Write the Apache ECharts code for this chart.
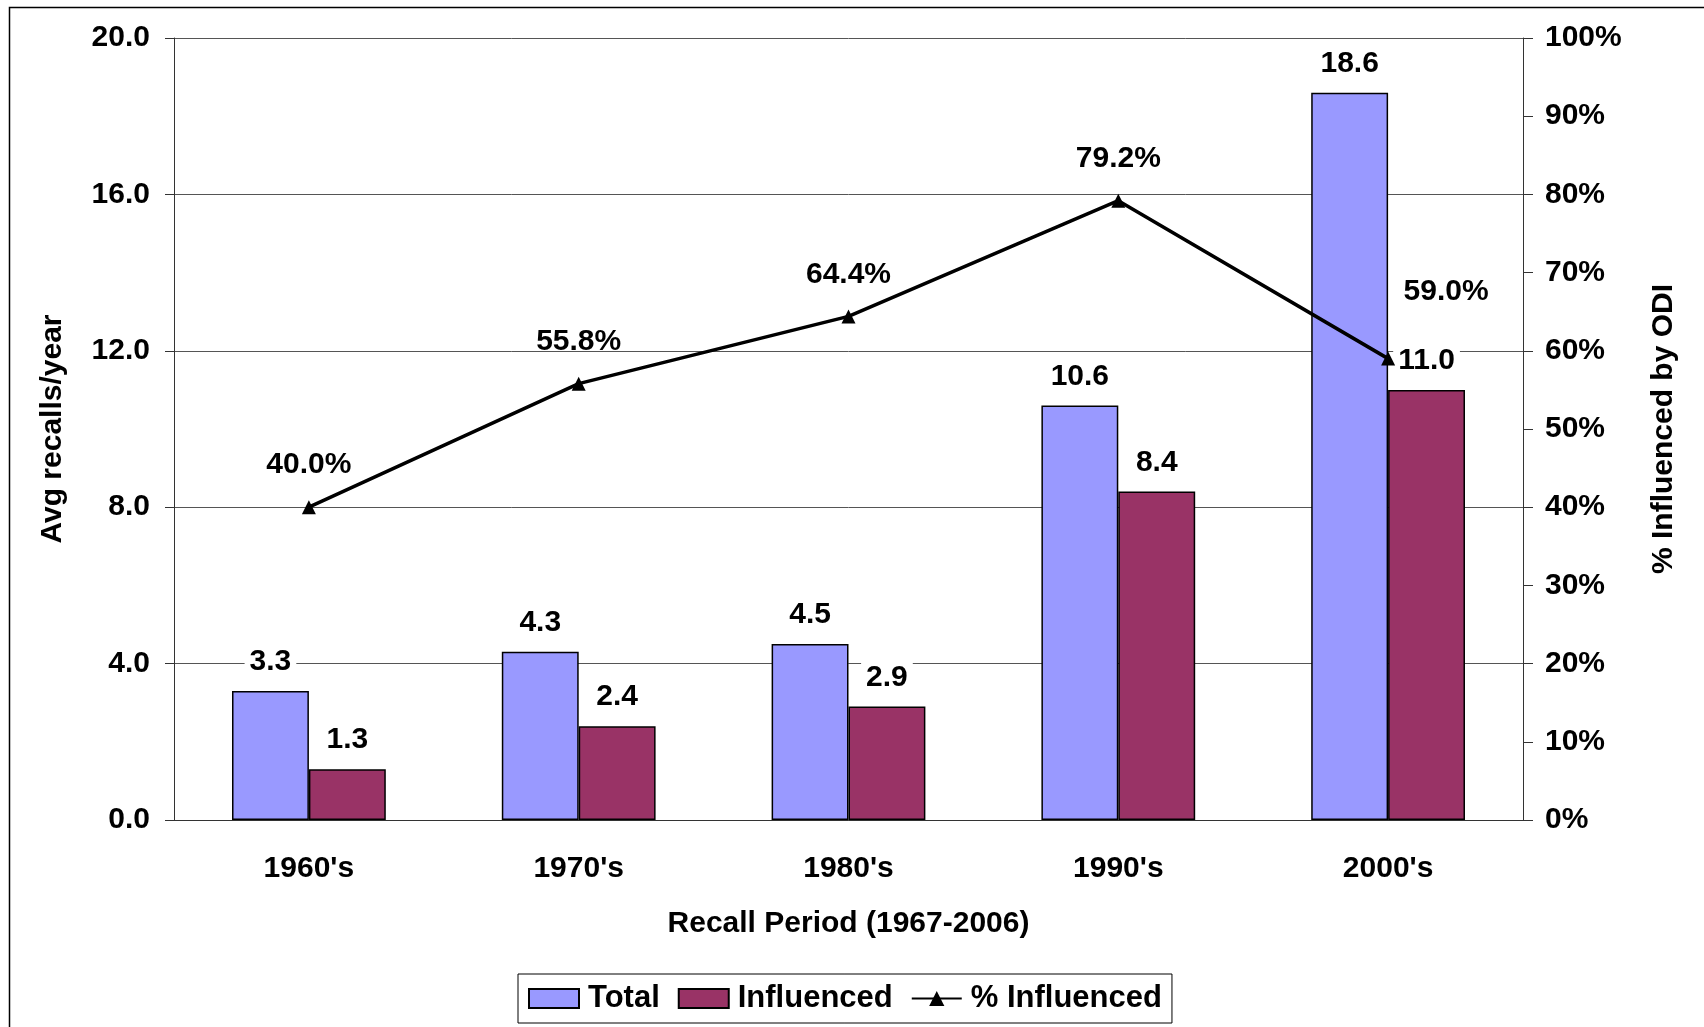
<!DOCTYPE html>
<html>
<head>
<meta charset="utf-8">
<title>Recalls by period</title>
<script src="https://cdn.jsdelivr.net/npm/echarts@6/dist/echarts.min.js"></script>
<style>
    html, body { margin: 0; padding: 0; background: #fff; }
    #main { width: 1704px; height: 1027px; }
</style>
</head>
<body>
<div id="main"></div>
<script>
var periods = ["1960's", "1970's", "1980's", "1990's", "2000's"];
var totalRecalls = [3.3, 4.3, 4.5, 10.6, 18.6];
var influencedRecalls = [1.3, 2.4, 2.9, 8.4, 11.0];
var pctInfluenced = [0.400, 0.558, 0.644, 0.792, 0.590];

var FONT = '"Liberation Sans", Arial, sans-serif';
var txt = { fontFamily: FONT, fontWeight: 'bold', fontSize: 30, color: '#000' };

var chart = echarts.init(document.getElementById('main'));

var lineData = [];
for (var i = 0; i < pctInfluenced.length; i++) {
    var item = { value: pctInfluenced[i] };
    if (i == pctInfluenced.length - 1) {
        // the last label sits up and to the right in the original
        item.label = { offset: [58, -25] };
    }
    lineData.push(item);
}

var option = {
    backgroundColor: '#fff',
    animation: false,
    graphic: [{
        type: 'rect',
        left: 7, top: 5,
        shape: { width: 1720, height: 1100 },
        style: { fill: 'none', stroke: '#000', lineWidth: 1.5 }
    }],
    grid: { left: 174, right: 181, top: 38, bottom: 207 },
    legend: {
        left: 518, top: 974,
        padding: [9, 10, 9, 10],
        borderColor: '#000', borderWidth: 1,
        itemWidth: 50, itemHeight: 19, itemGap: 18,
        textStyle: Object.assign({ padding: [0, 0, 0, 4] }, txt, { fontSize: 31 }),
        data: [
            { name: 'Total', icon: 'rect' },
            { name: 'Influenced', icon: 'rect' },
            '% Influenced'
        ]
    },
    xAxis: {
        type: 'category',
        data: periods,
        name: 'Recall Period (1967-2006)',
        nameLocation: 'middle',
        nameGap: 89,
        nameTextStyle: txt,
        axisLine: { lineStyle: { color: '#333', width: 1 } },
        axisTick: { length: 10, lineStyle: { color: '#333' } },
        axisLabel: Object.assign({ margin: 34 }, txt)
    },
    yAxis: [{
        type: 'value',
        min: 0, max: 20, interval: 4,
        name: 'Avg recalls/year',
        nameLocation: 'middle',
        nameRotate: 90,
        nameGap: 106,
        nameTextStyle: txt,
        axisLine: { show: true, lineStyle: { color: '#333', width: 1 } },
        axisTick: { show: true, length: 9, lineStyle: { color: '#333' } },
        axisLabel: Object.assign({
            margin: 24,
            formatter: function (v) { return v.toFixed(1); }
        }, txt),
        splitLine: { lineStyle: { color: '#555', width: 1 } }
    }, {
        type: 'value',
        min: 0, max: 1, interval: 0.1,
        name: '% Influenced by ODI',
        nameLocation: 'middle',
        nameRotate: 90,
        nameGap: 126,
        nameTextStyle: txt,
        axisLine: { show: true, lineStyle: { color: '#333', width: 1 } },
        axisTick: { show: true, length: 10, lineStyle: { color: '#333' } },
        axisLabel: Object.assign({
            margin: 22,
            formatter: function (v) { return Math.round(v * 100) + '%'; }
        }, txt),
        splitLine: { show: false }
    }],
    series: [{
        name: 'Total',
        type: 'bar',
        data: totalRecalls,
        barGap: '0%',
        barCategoryGap: '43%',
        itemStyle: { color: '#9999FF', borderColor: '#000', borderWidth: 1.5 },
        label: Object.assign({
            show: true, position: 'top', distance: 14,
            backgroundColor: '#fff', padding: [0, 5],
            formatter: function (p) { return p.value.toFixed(1); }
        }, txt)
    }, {
        name: 'Influenced',
        type: 'bar',
        data: influencedRecalls,
        itemStyle: { color: '#993366', borderColor: '#000', borderWidth: 1.5 },
        label: Object.assign({
            show: true, position: 'top', distance: 14,
            backgroundColor: '#fff', padding: [0, 5],
            formatter: function (p) { return p.value.toFixed(1); }
        }, txt)
    }, {
        name: '% Influenced',
        type: 'line',
        yAxisIndex: 1,
        data: lineData,
        symbol: 'triangle',
        symbolSize: 14,
        lineStyle: { color: '#000', width: 3.5 },
        itemStyle: { color: '#000' },
        label: Object.assign({
            show: true, position: 'top', distance: 20,
            formatter: function (p) { return (p.value * 100).toFixed(1) + '%'; }
        }, txt),
        z: 5
    }]
};

chart.setOption(option);
window.addEventListener("resize", function () {
    chart.resize();
});
</script>
</body>
</html>
